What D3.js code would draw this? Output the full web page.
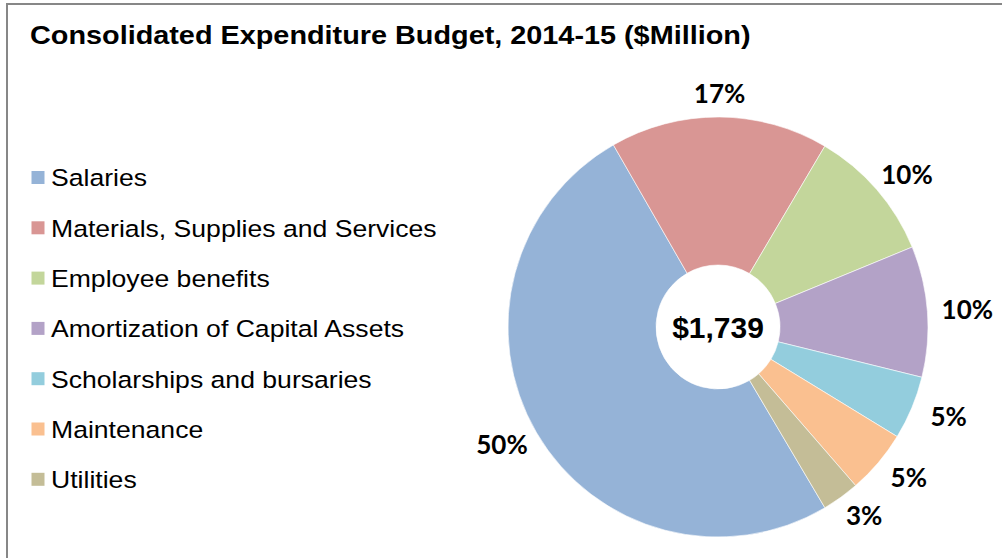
<!DOCTYPE html>
<html>
<head>
<meta charset="utf-8">
<script src="https://cdn.jsdelivr.net/npm/d3@7"></script>
<style>
  html, body { margin: 0; padding: 0; background: #fff; }
  svg { display: block; }
</style>
</head>
<body>
<svg id="chart" width="1002" height="558"></svg>
<script>
// ---- data ----
const categories = [
  "Salaries",
  "Materials, Supplies and Services",
  "Employee benefits",
  "Amortization of Capital Assets",
  "Scholarships and bursaries",
  "Maintenance",
  "Utilities"
];
const values = [873, 292, 179, 175, 85, 85, 50]; // $Million
const colors = ["#95B3D7", "#D99694", "#C3D69B", "#B3A2C7", "#93CDDD", "#FAC090", "#C4BD97"];
const titleText = "Consolidated Expenditure Budget, 2014-15 ($Million)";
const totalLabel = "$1,739";

// ---- layout ----
const W = 1002, H = 558;
const svg = d3.select("#chart");
svg.append("rect").attr("x", 0).attr("y", 0).attr("width", W).attr("height", H).attr("fill", "#fff");

// frame (cut by image edges on right/bottom)
svg.append("rect")
  .attr("x", 7).attr("y", 4).attr("width", W + 20).attr("height", H + 20)
  .attr("fill", "none").attr("stroke", "#878787").attr("stroke-width", 2);

// stretch text horizontally (reference text is wider than its height suggests)
function stretch(sel, factor) {
  sel.each(function () {
    const n = this.getComputedTextLength();
    d3.select(this).attr("textLength", n * factor).attr("lengthAdjust", "spacingAndGlyphs");
  });
}

// title
const title = svg.append("text")
  .attr("x", 30).attr("y", 44)
  .attr("font-family", "Liberation Sans, Arial, sans-serif")
  .attr("font-weight", "bold").attr("font-size", 25.5)
  .attr("fill", "#000")
  .text(titleText);
stretch(title, 1.13);

// legend
const legend = svg.append("g");
const legY0 = 177.5, legStep = 50.3;
categories.forEach((c, i) => {
  const y = legY0 + i * legStep;
  legend.append("rect")
    .attr("x", 31.5).attr("y", y - 6.5).attr("width", 13).attr("height", 13)
    .attr("fill", colors[i]);
  const t = legend.append("text")
    .attr("x", 51).attr("y", y).attr("dy", "0.36em")
    .attr("font-family", "Liberation Sans, Arial, sans-serif")
    .attr("font-size", 24.5).attr("fill", "#000")
    .text(c);
  stretch(t, 1.085);
});

// pie
const cx = 718, cy = 327, R = 210, r0 = 62;
const firstSliceAngle = 149.4 * Math.PI / 180;
const pie = d3.pie().sort(null).value(d => d)
  .startAngle(firstSliceAngle).endAngle(firstSliceAngle + 2 * Math.PI);
const arcs = pie(values);
const arc = d3.arc().innerRadius(r0).outerRadius(R);
const g = svg.append("g").attr("transform", `translate(${cx},${cy})`);
g.selectAll("path.slice").data(arcs).enter().append("path")
  .attr("class", "slice")
  .attr("d", arc)
  .attr("fill", (d, i) => colors[i])
  .attr("stroke", "#fff").attr("stroke-width", 0.6);

// percent labels (outside end)
const total = d3.sum(values);
const fmt = d3.format(".0%");
const lrx = 250, lry = 233;
g.selectAll("text.pct").data(arcs).enter().append("text")
  .attr("class", "pct")
  .attr("x", d => Math.sin((d.startAngle + d.endAngle) / 2) * lrx)
  .attr("y", d => -Math.cos((d.startAngle + d.endAngle) / 2) * lry)
  .attr("dy", "0.36em")
  .attr("text-anchor", "middle")
  .attr("font-family", "Lato, Carlito, Calibri, sans-serif")
  .attr("font-weight", "bold").attr("font-size", 26)
  .attr("fill", "#000")
  .text(d => fmt(d.value / total));

// center total
g.append("text")
  .attr("x", 0).attr("y", 0).attr("dy", "0.36em")
  .attr("text-anchor", "middle")
  .attr("font-family", "Liberation Sans, Arial, sans-serif")
  .attr("font-weight", "bold").attr("font-size", 30)
  .attr("fill", "#000")
  .text(totalLabel);
</script>
</body>
</html>
